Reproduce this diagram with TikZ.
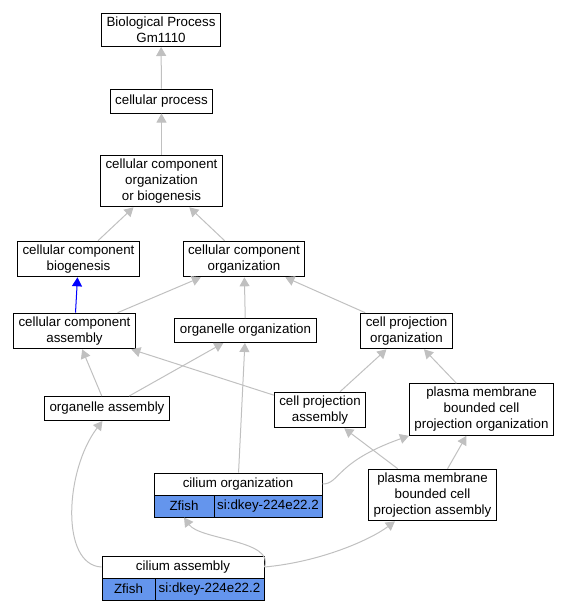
\documentclass[tikz,border=0pt]{standalone}
\usepackage{fontspec}
\setmainfont{Liberation Sans}
\usetikzlibrary{arrows.meta}
\definecolor{edgegray}{RGB}{192,192,192}
\definecolor{zblue}{RGB}{100,149,237}

\begin{document}
\begin{tikzpicture}[x=1pt, y=-1pt,
			term/.style={draw, line width=1pt, fill=white, align=center,
				text=black, font=\fontsize{13.33}{16}\selectfont,
				inner xsep=5pt, inner ysep=3.6pt, minimum height=24pt},
			head/.style={draw, line width=1pt, fill=white, text=black,
				font=\fontsize{13.33}{16}\selectfont, inner sep=0pt, minimum height=22pt},
			cell/.style={head, fill=zblue},
			link/.style={draw=edgegray, line width=1pt,
				-{Triangle[length=9pt, width=10pt, color=edgegray]}},
			bluelink/.style={draw=blue, line width=1pt,
				-{Triangle[length=9pt, width=10pt, color=blue]}}]
			\useasboundingbox (0,0) rectangle (567,611);
			\node[term] (bp) at (161, 30) {Biological Process\\Gm1110};
			\node[term] (cp) at (161.5, 101) {cellular process};
			\node[term] (ccob) at (161.5, 181) {cellular component\\organization\\or biogenesis};
			\node[term] (ccb) at (78.5, 259) {cellular component\\biogenesis};
			\node[term] (cco) at (244, 259) {cellular component\\organization};
			\node[term] (cca) at (74.5, 331) {cellular component\\assembly};
			\node[term] (oo) at (245.5, 330.5) {organelle organization};
			\node[term] (cpo) at (406.5, 331) {cell projection\\organization};
			\node[term] (oa) at (107, 408.5) {organelle assembly};
			\node[term] (cpa) at (320, 410) {cell projection\\assembly};
			\node[term] (pmbcpo) at (481.5, 409.5) {plasma membrane\\bounded cell\\projection organization};
			\node[term] (pmbcpa) at (432.5, 495) {plasma membrane\\bounded cell\\projection assembly};
			\node[head, minimum width=168pt] (co) at (238, 484) {cilium organization};
			\node[cell, minimum width=60pt] (coz) at (184, 506) {Zfish};
			\node[cell, minimum width=108pt] (cok) at (268, 506) {si:dkey-224e22.2};
			\node[head, minimum width=162pt] (ca) at (183, 567) {cilium assembly};
			\node[cell, minimum width=53pt] (caz) at (128.5, 589) {Zfish};
			\node[cell, minimum width=109pt] (cak) at (209.5, 589) {si:dkey-224e22.2};
			
			\path[link] 	(cp)  edge   (bp);
			\path[link] 	(ccob)  edge   (cp);
			\path[link] 	(ccb)  edge   (ccob);
			\path[link] 	(cco)  edge   (ccob);
			\path[bluelink] 	(cca)  edge   (ccb);
			\path[link] 	(cca)  edge   (cco);
			\path[link] 	(oo)  edge   (cco);
			\path[link] 	(cpo)  edge   (cco);
			\path[link] 	(oa)  edge   (cca);
			\path[link] 	(oa)  edge   (oo);
			\path[link] 	(cpa)  edge   (cca);
			\path[link] 	(cpa)  edge   (cpo);
			\path[link] 	(pmbcpo)  edge   (cpo);
			\path[link] 	(pmbcpa)  edge   (cpa);
			\path[link] 	(pmbcpa)  edge   (pmbcpo);
			\path[link] 	(co)  edge   (oo);
			\draw[link] (co.east) .. controls (340, 484) and (335, 462) .. (pmbcpo.south west);
			\draw[link] (ca.west) .. controls (60, 565) and (65, 470) .. (oa.-110);
			\draw[link] (ca.east) .. controls (275, 540) and (200, 540) .. (coz.south);
			\draw[link] (ca.east) .. controls (320, 562) and (370, 540) .. (pmbcpa.-145);
			\end{tikzpicture}
\end{document}
